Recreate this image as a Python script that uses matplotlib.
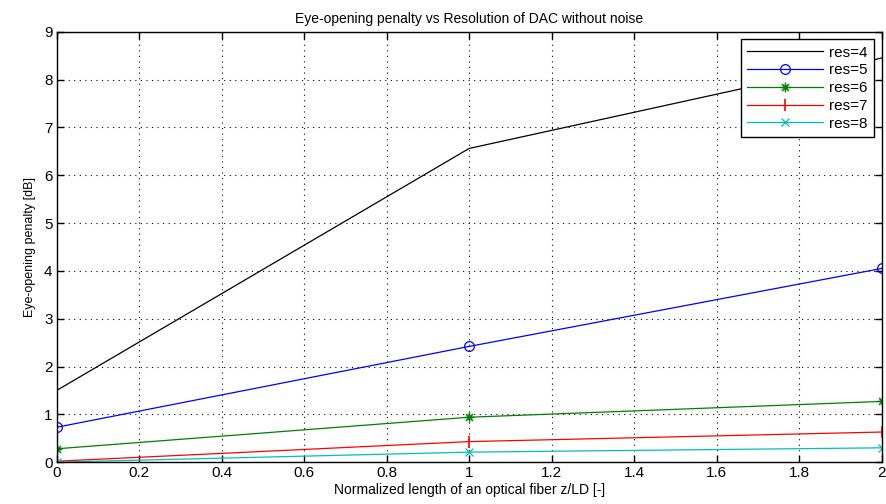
import matplotlib
matplotlib.use("Agg")
import matplotlib.pyplot as plt
from matplotlib.path import Path

plt.rcParams['font.family'] = ['Liberation Sans', 'DejaVu Sans']

x = [0, 1, 2]
res4 = [1.50, 6.56, 8.45]
res5 = [0.73, 2.42, 4.05]
res6 = [0.28, 0.94, 1.27]
res7 = [0.02, 0.43, 0.63]
res8 = [0.00, 0.21, 0.30]

xticks = [0, 0.2, 0.4, 0.6, 0.8, 1, 1.2, 1.4, 1.6, 1.8, 2]
yticks = list(range(10))

# eight-armed asterisk marker
d = 0.707
asterisk = Path(
    [(-1, 0), (1, 0), (0, -1), (0, 1), (-d, -d), (d, d), (-d, d), (d, -d)],
    [Path.MOVETO, Path.LINETO] * 4,
)

fig = plt.figure(figsize=(8.86, 5.04), dpi=100)
ax = fig.add_axes([0.064, 0.083, 0.931, 0.854])

ax.plot(x, res4, color='black', lw=0.9, label='res=4')
ax.plot(x, res5, color='blue', lw=0.9, marker='o', mfc='none', ms=7, mew=0.9, label='res=5')
ax.plot(x, res6, color='green', lw=0.9, marker=asterisk, mfc='none', ms=7, mew=1.1, label='res=6')
ax.plot(x, res7, color='red', lw=0.9, marker='|', ms=9, mew=1.2, label='res=7')
ax.plot(x, res8, color='c', lw=0.9, marker='x', ms=6, mew=0.9, label='res=8')

ax.set_xlim(0, 2)
ax.set_ylim(0, 9)
ax.set_xticks(xticks)
ax.set_xticklabels([f'{v:g}' for v in xticks])
ax.set_yticks(yticks)
ax.tick_params(direction='in', length=5, width=1, labelsize=11, top=True, right=True, pad=3)
ax.grid(True, linestyle=(0, (1, 4)), color='black', lw=0.8)
for s in ax.spines.values():
    s.set_linewidth(1)

ax.set_title('Eye-opening penalty vs Resolution of DAC without noise', fontsize=10, pad=6)
ax.set_xlabel('Normalized length of an optical fiber z/LD [-]', fontsize=10, labelpad=2)
ax.set_ylabel('Eye-opening penalty [dB]', fontsize=9, labelpad=6)

leg = ax.legend(loc='upper right', fontsize=11, fancybox=False, framealpha=1,
                edgecolor='black', borderaxespad=0.5, handlelength=5.0,
                labelspacing=0.25, borderpad=0.4, handletextpad=0.4)
leg.get_frame().set_linewidth(1)

fig.savefig('out.png', dpi=100)
